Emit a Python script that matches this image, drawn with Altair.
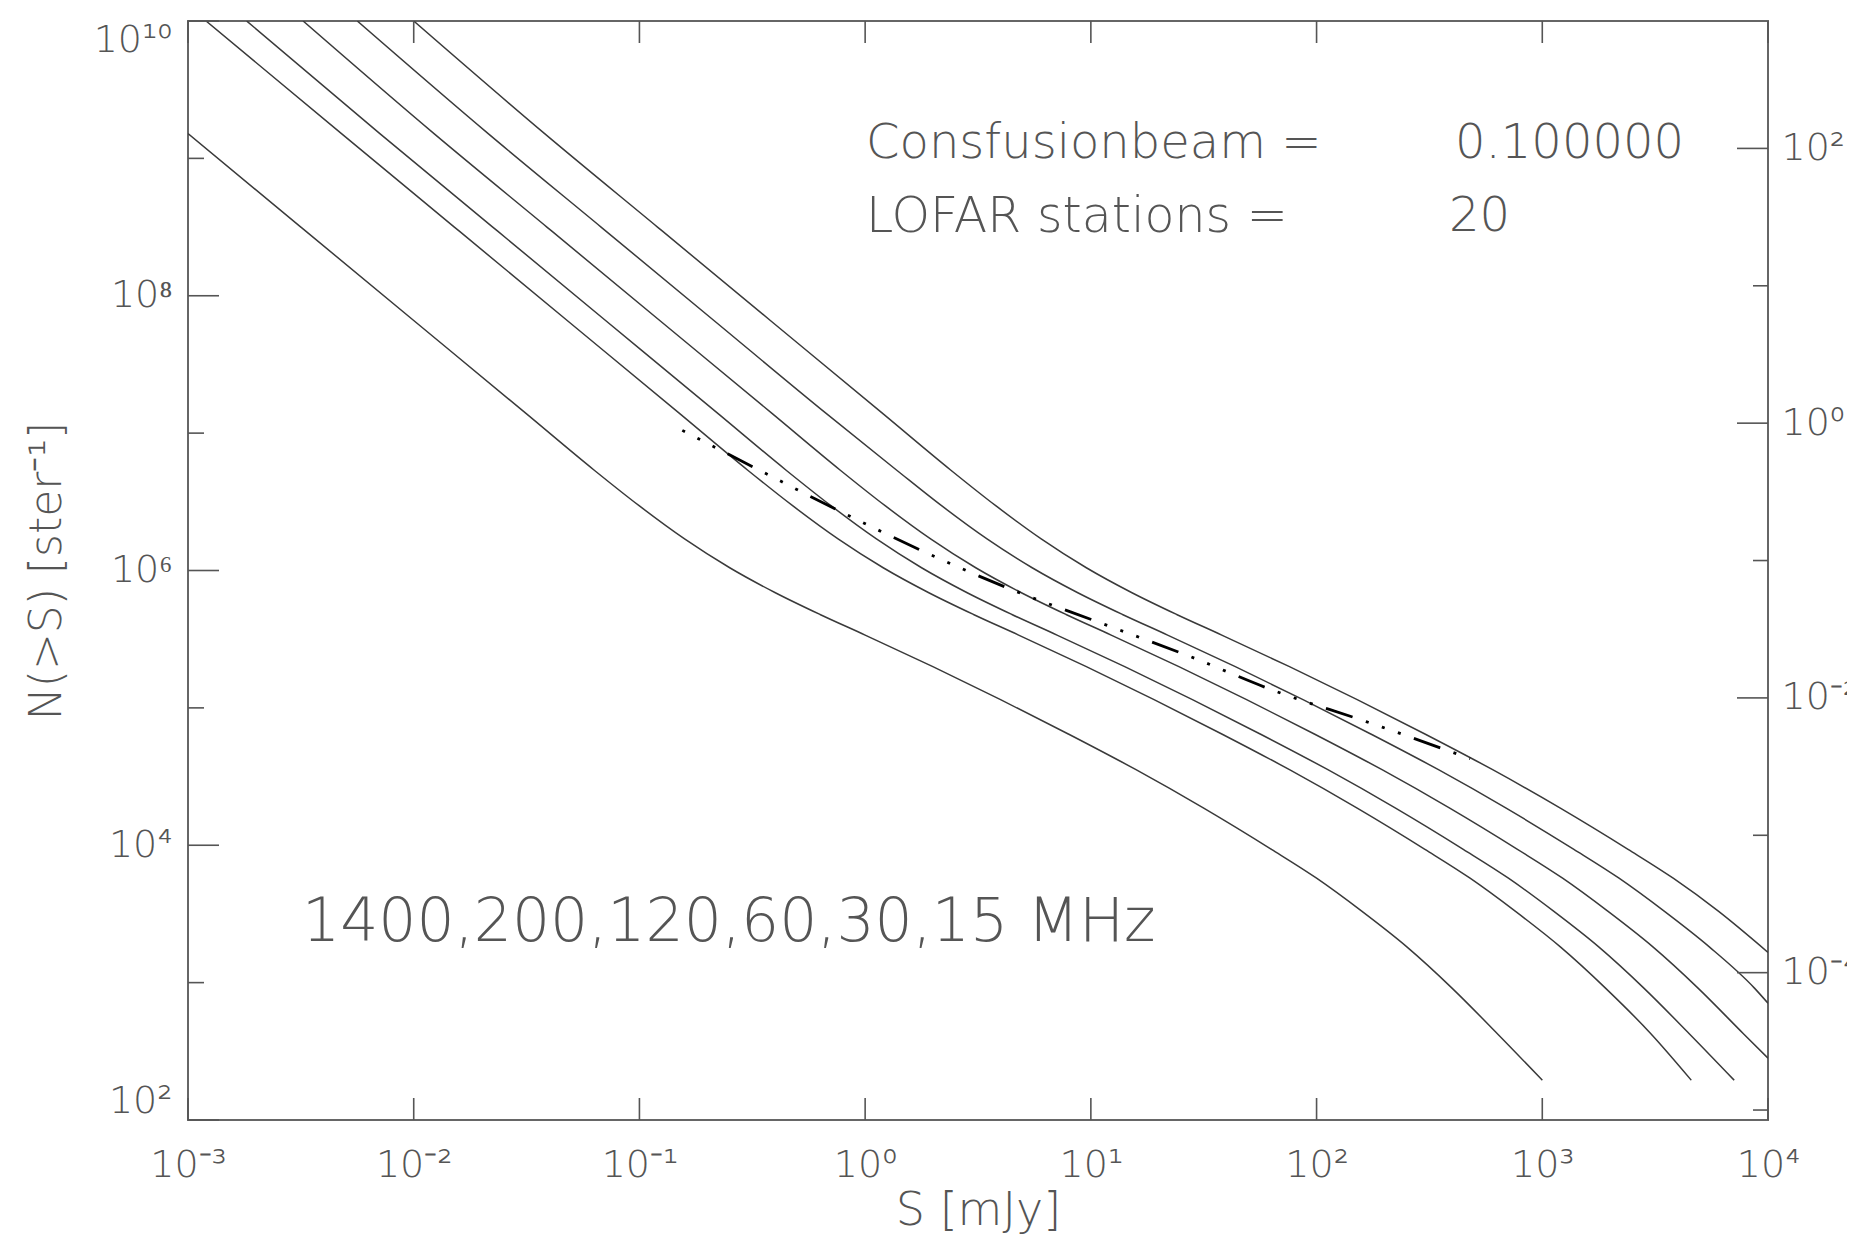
import math
import altair as alt
import pandas as pd

# ---------------- data (log10 values) ----------------
curve_names = ["15 MHz", "30 MHz", "60 MHz", "120 MHz", "200 MHz", "1400 MHz"]

logS_15 = [-2.00, -1.42, -0.92, -0.42, 0.08, 0.38, 0.58, 0.78, 0.98, 1.18, 1.38, 1.58,
           1.88, 2.18, 2.48, 2.78, 3.08, 3.38, 3.58, 3.78, 4.00]
logN_15 = [10.0, 9.18, 8.50, 7.82, 7.14, 6.73, 6.47, 6.23, 6.02, 5.84, 5.68, 5.53,
           5.30, 5.06, 4.81, 4.55, 4.27, 3.97, 3.76, 3.52, 3.22]

logS_30 = [-2.25, -1.67, -1.17, -0.67, -0.17, 0.14, 0.34, 0.54, 0.74, 0.94, 1.14, 1.34,
           1.64, 1.94, 2.24, 2.54, 2.84, 3.14, 3.34, 3.54, 3.74, 3.94, 4.00]
logN_30 = [10.0, 9.18, 8.50, 7.82, 7.14, 6.73, 6.47, 6.23, 6.02, 5.84, 5.68, 5.53,
           5.30, 5.06, 4.81, 4.55, 4.27, 3.97, 3.76, 3.52, 3.26, 2.96, 2.85]

logS_60 = [-2.49, -1.91, -1.41, -0.91, -0.41, -0.11, 0.09, 0.29, 0.49, 0.69, 0.89, 1.09,
           1.39, 1.69, 1.99, 2.29, 2.59, 2.89, 3.09, 3.29, 3.49, 3.69, 3.89, 4.00]
logN_60 = [10.0, 9.18, 8.50, 7.82, 7.14, 6.73, 6.47, 6.23, 6.02, 5.84, 5.68, 5.53,
           5.30, 5.06, 4.81, 4.55, 4.27, 3.97, 3.76, 3.52, 3.26, 2.96, 2.63, 2.45]

logS_120 = [-2.74, -2.15, -1.65, -1.15, -0.65, -0.35, -0.15, 0.05, 0.25, 0.45, 0.65, 0.85,
            1.15, 1.45, 1.75, 2.05, 2.35, 2.65, 2.85, 3.05, 3.25, 3.45, 3.65, 3.85]
logN_120 = [10.0, 9.18, 8.50, 7.82, 7.14, 6.73, 6.47, 6.23, 6.02, 5.84, 5.68, 5.53,
            5.30, 5.06, 4.81, 4.55, 4.27, 3.97, 3.76, 3.52, 3.26, 2.96, 2.63, 2.29]

logS_200 = [-2.92, -2.32, -1.82, -1.32, -0.82, -0.52, -0.32, -0.12, 0.08, 0.28, 0.48, 0.68,
            0.98, 1.28, 1.58, 1.88, 2.18, 2.48, 2.68, 2.88, 3.08, 3.28, 3.48, 3.66]
logN_200 = [10.0, 9.18, 8.50, 7.82, 7.14, 6.73, 6.47, 6.23, 6.02, 5.84, 5.68, 5.53,
            5.30, 5.06, 4.81, 4.55, 4.27, 3.97, 3.76, 3.52, 3.26, 2.96, 2.63, 2.29]

logS_1400 = [-3.0, -2.5, -2.0, -1.5, -1.2, -1.0, -0.8, -0.6, -0.4, -0.2, 0.0, 0.3,
             0.6, 0.9, 1.2, 1.5, 1.8, 2.0, 2.2, 2.4, 2.6, 2.8, 3.0]
logN_1400 = [9.18, 8.50, 7.82, 7.14, 6.73, 6.47, 6.23, 6.02, 5.84, 5.68, 5.53, 5.30,
             5.06, 4.81, 4.55, 4.27, 3.97, 3.76, 3.52, 3.26, 2.96, 2.63, 2.29]

# dash-dot-dot-dot reference line
logS_ref = [-0.81, -0.48, -0.11, 0.27, 0.65, 1.04, 1.43, 1.82, 2.22, 2.68]
logN_ref = [7.02, 6.74, 6.43, 6.13, 5.86, 5.62, 5.38, 5.12, 4.90, 4.63]

# axis ticks / labels
x_tick_exps = [-3, -2, -1, 0, 1, 2, 3, 4]
y_major_exps = [2, 4, 6, 8, 10]
y_minor_exps = [3, 5, 7, 9]
r_major_exps = [2, 0, -2, -4]
r_minor_exps = [1, -1, -3, -5]

annot_lines = ["Consfusionbeam =", "LOFAR stations ="]
annot_values = ["0.100000", "20"]
freq_label = "1400,200,120,60,30,15 MHz"

# ---------------- build tables ----------------
series = [logS_15, logS_30, logS_60, logS_120, logS_200, logS_1400]
values = [logN_15, logN_30, logN_60, logN_120, logN_200, logN_1400]
rows = []
for name, ls, ln in zip(curve_names, series, values):
    for i, (a, b) in enumerate(zip(ls, ln)):
        rows.append({"curve": name, "i": i, "S": 10 ** a, "N": 10 ** b})
df = pd.DataFrame(rows)
df_ref = pd.DataFrame({"i": range(len(logS_ref)),
                       "S": [10 ** a for a in logS_ref],
                       "N": [10 ** b for b in logN_ref]})

SUP = str.maketrans("0123456789-", "⁰¹²³⁴⁵⁶⁷⁸⁹⁻")


def label_expr(exps):
    parts = [f"round(log(datum.value)/LN10) == {e} ? '10{str(e).translate(SUP)}'" for e in exps]
    return " : ".join(parts) + " : ''"


K = (180 * 60 / math.pi) ** 2  # arcmin^2 per steradian

W, H = 1580, 1099
FONT = "DejaVu Sans"
FW = 200
TXT = "#555555"
LINE = "#3a3a3a"
TICK = "#555555"
LAB = 38

xs = alt.Scale(type="log", domain=[1e-3, 1e4], nice=False)
ys = alt.Scale(type="log", domain=[1e2, 1e10], nice=False)
rs = alt.Scale(type="log", domain=[1e2 / K, 1e10 / K], nice=False)

x_axis = alt.Axis(values=[10.0 ** e for e in x_tick_exps], labelExpr=label_expr(x_tick_exps),
                  ticks=False, domain=False, grid=False, labelFont=FONT, labelFontSize=LAB,
                  labelFontWeight=FW, labelColor=TXT, labelPadding=26, labelFlush=False,
                  title="S [mJy]", titleFont=FONT, titleFontSize=46, titleFontWeight=FW,
                  titleColor=TXT, titleX=W / 2, titleY=90, titleBaseline="middle",
                  titleAlign="center")
y_axis = alt.Axis(values=[10.0 ** e for e in y_major_exps], labelExpr=label_expr(y_major_exps),
                  ticks=False, domain=False, grid=False, labelFont=FONT, labelFontSize=LAB,
                  labelFontWeight=FW, labelColor=TXT, labelPadding=16, labelFlush=True,
                  title="N(>S) [ster⁻¹]", titleFont=FONT, titleFontSize=44,
                  titleFontWeight=FW, titleColor=TXT, titleX=-141, titleY=H / 2,
                  titleAngle=270, titleBaseline="middle", titleAlign="center")
r_axis = alt.Axis(orient="right", values=[10.0 ** e for e in r_major_exps],
                  labelExpr=label_expr(r_major_exps), ticks=False, domain=False, grid=False,
                  labelFont=FONT, labelFontSize=LAB, labelFontWeight=FW, labelColor=TXT,
                  labelPadding=13, labelFlush=False, title="")

curves = alt.Chart(df).mark_line(color=LINE, strokeWidth=1.5, interpolate="monotone",
                                 clip=True).encode(
    x=alt.X("S:Q", scale=xs, axis=x_axis),
    y=alt.Y("N:Q", scale=ys, axis=y_axis),
    detail="curve:N",
    order="i:Q",
)

refline = alt.Chart(df_ref).mark_line(color="black", strokeWidth=2.8,
                                      strokeDash=[28, 14, 3, 14, 3, 14, 3, 14],
                                      strokeDashOffset=42, strokeCap="butt",
                                      interpolate="monotone").encode(
    x=alt.X("S:Q", scale=xs), y=alt.Y("N:Q", scale=ys, axis=None), order="i:Q")

xt = pd.DataFrame({"S": [10.0 ** e for e in x_tick_exps]})
bottom_ticks = alt.Chart(xt).mark_rule(color=TICK, strokeWidth=1.6).encode(
    x=alt.X("S:Q", scale=xs), y=alt.value(H), y2=alt.value(H - 22))
top_ticks = alt.Chart(xt).mark_rule(color=TICK, strokeWidth=1.6).encode(
    x=alt.X("S:Q", scale=xs), y=alt.value(0), y2=alt.value(22))

lmaj = alt.Chart(pd.DataFrame({"v": [10.0 ** e for e in y_major_exps]})).mark_rule(
    color=TICK, strokeWidth=1.6).encode(y=alt.Y("v:Q", scale=ys, axis=None),
                                        x=alt.value(0), x2=alt.value(31))
lmin = alt.Chart(pd.DataFrame({"v": [10.0 ** e for e in y_minor_exps]})).mark_rule(
    color=TICK, strokeWidth=1.6).encode(y=alt.Y("v:Q", scale=ys, axis=None),
                                        x=alt.value(0), x2=alt.value(16))

rmaj = alt.Chart(pd.DataFrame({"v": [10.0 ** e for e in r_major_exps]})).mark_rule(
    color=TICK, strokeWidth=1.6).encode(y=alt.Y("v:Q", scale=rs, axis=r_axis),
                                        x=alt.value(W), x2=alt.value(W - 31))
rmin = alt.Chart(pd.DataFrame({"v": [10.0 ** e for e in r_minor_exps]})).mark_rule(
    color=TICK, strokeWidth=1.6).encode(y=alt.Y("v:Q", scale=rs, axis=None),
                                        x=alt.value(W), x2=alt.value(W - 15))


def text_layer(txt, px, py, size):
    return alt.Chart(pd.DataFrame({"t": [txt]})).mark_text(
        align="left", baseline="middle", font=FONT, fontSize=size, fontWeight=FW,
        color=TXT).encode(x=alt.value(px), y=alt.value(py), text="t:N")


texts = [
    text_layer(annot_lines[0], 678, 123, 48),
    text_layer(annot_values[0], 1267, 123, 48),
    text_layer(annot_lines[1], 678, 196, 49),
    text_layer(annot_values[1], 1261, 196, 48),
    text_layer(freq_label, 114, 902, 60),
]

chart = alt.layer(curves, refline, bottom_ticks, top_ticks, lmaj, lmin, rmaj, rmin,
                  *texts).resolve_scale(y="independent").properties(
    width=W, height=H,
    autosize=alt.AutoSizeParams(type="none"),
    padding={"left": 180, "top": 13, "right": 79, "bottom": 116},
    background="white",
).configure_view(stroke="#666666", strokeWidth=2)

chart.save("out.html", embed_options={"renderer": "svg", "actions": False})
